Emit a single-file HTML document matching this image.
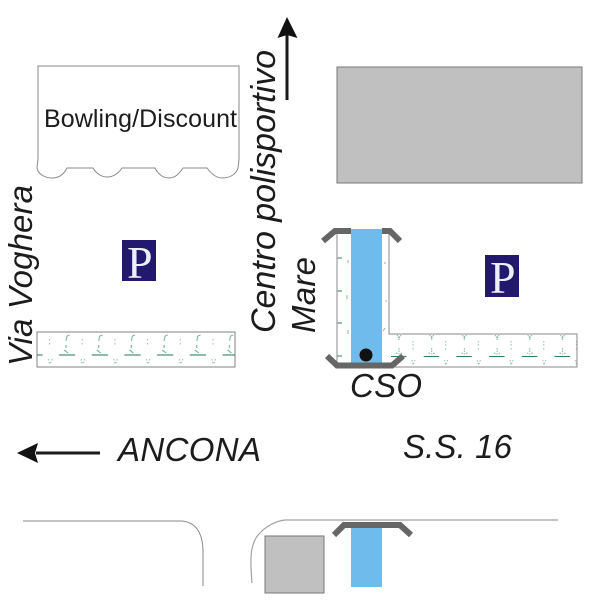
<!DOCTYPE html>
<html>
<head>
<meta charset="utf-8">
<style>
html,body{margin:0;padding:0;background:#fff}
svg{display:block}
text{font-family:"Liberation Sans",sans-serif;fill:#1c1c1c}
text.p{font-family:"Liberation Serif",serif;fill:#eeeef5}
</style>
</head>
<body>
<svg width="600" height="600" viewBox="0 0 600 600" xmlns="http://www.w3.org/2000/svg">
<defs>
<pattern id="h1" patternUnits="userSpaceOnUse" x="37" y="332" width="32.7" height="35">
<g fill="none" stroke="#4f9a86" stroke-width="1">
<path d="M29 9l1-5M30 4l3-1" stroke-width="1" opacity=".8"/>
<path d="M29 13v3M27 18l4 3" stroke-width="1" opacity=".9"/>
<path d="M22 23H32.700" stroke="#2f8068" stroke-width="1.100"/>
<path d="M0 23H5.500" stroke="#2f8068" stroke-width="1.100"/>
<path d="M12.500 7v2M12.500 11v3M11.500 27l1 5M15 27l-2 5" stroke-dasharray="1.500 1.500" stroke-width="1" opacity=".65"/>
</g>
</pattern>
<pattern id="h2" patternUnits="userSpaceOnUse" x="391" y="334" width="32.7" height="33">
<g fill="none" stroke="#4f9a86" stroke-width="1">
<path d="M8 2v4M6 1l2 3M10 1l-2 3M8 14v5M5 19l3 1M11 19l-3 1" stroke-dasharray="1.500 1" stroke-width="1" opacity=".75"/>
<path d="M0 22.500H15.500" stroke="#2f8068" stroke-width="1.100"/>
<path d="M22 7v5M22 14v3M21 26l1 5M24 26l-2 5" stroke-dasharray="1.500 1.500" stroke-width="1" opacity=".65"/>
</g>
</pattern>
</defs>

<!-- Bowling building -->
<path d="M38 66H239V158C239 163 238 167 238 168C236 175 229 178 222 178C215 178 210 172 207 168H183C179 174 175 178 169 178C163 178 158 174 155 168H122C118 174 113 177 107 177C101 177 96 173 93 168H67C64 174 59 178 52 178C45 178 38 174 37 168C37 165 38 162 38 158Z" fill="#fff" stroke="#8a8a8a" stroke-width="1"/>
<text x="44" y="127" font-size="25" textLength="193" lengthAdjust="spacing">Bowling/Discount</text>

<!-- Gray building -->
<rect x="337" y="67" width="245" height="116" fill="#c0c0c0" stroke="#777" stroke-width="1"/>

<!-- Up arrow -->
<path d="M287 100V34" stroke="#1a1a1a" stroke-width="3" fill="none"/>
<path d="M287 17L297.500 38L287 35L277.500 38Z" fill="#111"/>

<!-- Rotated labels -->
<text transform="translate(275 333) rotate(-90)" font-size="34" font-style="italic" textLength="283" lengthAdjust="spacing">Centro polisportivo</text>
<text transform="translate(315 333) rotate(-90)" font-size="33" font-style="italic" textLength="76" lengthAdjust="spacing">Mare</text>
<text transform="translate(32 366) rotate(-90)" font-size="33" font-style="italic" textLength="181" lengthAdjust="spacing">Via Voghera</text>

<!-- Parking signs -->
<rect x="122" y="240" width="34" height="41" fill="#22186e"/>
<text class="p" x="127" y="278" font-size="46">P</text>
<rect x="485" y="255" width="34" height="42" fill="#22186e"/>
<text class="p" x="490" y="293" font-size="46">P</text>

<!-- Left strip -->
<rect x="37" y="332" width="198" height="35" fill="url(#h1)" stroke="#808080" stroke-width="1"/>

<!-- Right L shape -->
<path d="M337 230H389V334H577V367H337Z" fill="#fff"/>
<rect x="390" y="335" width="187" height="32" fill="url(#h2)"/>
<path d="M337 258h5M337 291h5M337 323h5M337 356h5" stroke="#2f8068" stroke-width="1"/>
<path d="M348 260v3M347 295v4M348 330v4M385 262v2M386 300v2M385 328l-2 3" stroke="#4f9a86" stroke-width="1" opacity=".7"/>
<path d="M337 230V367H577V334H389V230" fill="none" stroke="#8a8a8a" stroke-width="1"/>

<!-- Channel -->
<rect x="351" y="229" width="31" height="134" fill="#6fbcec"/>
<circle cx="366" cy="355" r="6.500" fill="#111"/>
<path d="M323 241L335 231H351" fill="none" stroke="#666" stroke-width="6"/>
<path d="M382 231H390L400 241" fill="none" stroke="#666" stroke-width="6"/>
<path d="M327 356L337 365.500H392L403 356" fill="none" stroke="#666" stroke-width="6"/>

<text x="350" y="397" font-size="33" font-style="italic" textLength="72" lengthAdjust="spacing">CSO</text>

<!-- Left arrow and road labels -->
<path d="M100 453H36" stroke="#1a1a1a" stroke-width="3" fill="none"/>
<path d="M17 453L38 443L35 453L38 463Z" fill="#111"/>
<text x="118" y="461" font-size="33" font-style="italic" textLength="143" lengthAdjust="spacing">ANCONA</text>
<text x="403" y="458" font-size="33" font-style="italic" textLength="109" lengthAdjust="spacing">S.S. 16</text>

<!-- Road edges -->
<path d="M23 521H180C197 521 203 535 203 552V586" fill="none" stroke="#8a8a8a" stroke-width="1"/>
<path d="M252 583C250 560 250 545 258 535C265 527 275 521 285 520H558" fill="none" stroke="#a0a0a0" stroke-width="1.200"/>

<!-- Bottom elements -->
<rect x="265" y="536" width="59" height="57" fill="#c0c0c0" stroke="#777" stroke-width="1"/>
<rect x="351" y="527" width="31" height="60" fill="#6fbcec"/>
<path d="M334 535L344 525H400L411 535" fill="none" stroke="#666" stroke-width="6"/>
</svg>
</body>
</html>
